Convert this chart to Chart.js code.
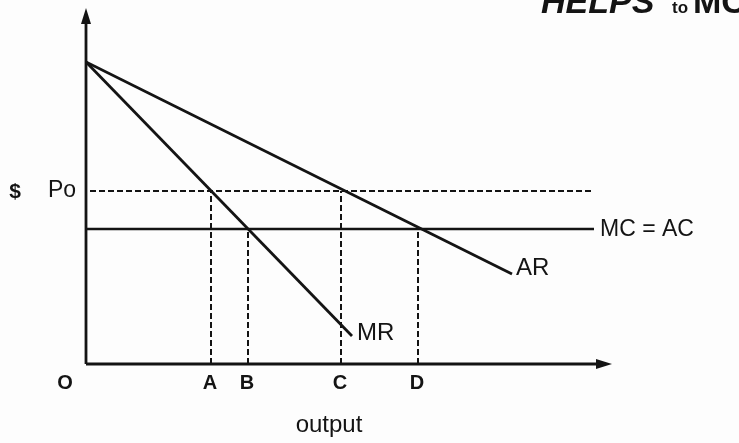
<!DOCTYPE html>
<html>
<head>
<meta charset="utf-8">
<script src="https://cdn.jsdelivr.net/npm/chart.js@4/dist/chart.umd.min.js"></script>
<style>
  html, body { margin: 0; padding: 0; background: #fdfdfd; }
  #wrap { width: 739px; height: 443px; position: relative; }
</style>
</head>
<body>
<div id="wrap"><canvas id="monopolyChart"></canvas></div>
<script>
// values (output on x, $ on y)
const arX = [0, 42.6];
const arY = [30.2, 9.0];
const mrX = [0, 26.6];
const mrY = [30.2, 2.8];
const priceLevel = 17.3;   // Po
const costLevel = 13.5;    // MC = AC
const lineEnd = 50.8;      // right end of MC=AC
const poEnd = 50.5;        // right end of Po dashes
const outputMarks = ["A", "B", "C", "D"];
const outputX = [12.5, 16.2, 25.5, 33.2];
const outputTop = [priceLevel, costLevel, priceLevel, costLevel];

const ink = "#141414";
const font = "'Liberation Sans', Arial, sans-serif";

function pts(xs, ys) {
  return xs.map((x, i) => ({ x: x, y: ys[i] }));
}

const dashed = (data) => ({
  data: data,
  borderColor: ink,
  borderWidth: 2,
  borderDash: [6, 3],
  pointRadius: 0,
  fill: false,
});

const datasets = [
  { data: pts(arX, arY), borderColor: ink, borderWidth: 2.8, pointRadius: 0, fill: false },
  { data: pts(mrX, mrY), borderColor: ink, borderWidth: 2.8, pointRadius: 0, fill: false },
  { data: [{ x: 0, y: costLevel }, { x: lineEnd, y: costLevel }], borderColor: ink, borderWidth: 2.3, pointRadius: 0, fill: false },
  dashed([{ x: 0.4, y: priceLevel }, { x: poEnd, y: priceLevel }]),
];
outputX.forEach((x, i) => {
  datasets.push(dashed([{ x: x, y: 0 }, { x: x, y: outputTop[i] }]));
});

// axes with arrow heads and the text labels
const diagramPlugin = {
  id: "diagram",
  afterDatasetsDraw(chart) {
    const ctx = chart.ctx;
    const xs = chart.scales.x;
    const ys = chart.scales.y;
    const ox = xs.getPixelForValue(0);
    const oy = ys.getPixelForValue(0);
    const xEnd = xs.right;
    const yEnd = ys.top;

    ctx.save();
    ctx.strokeStyle = ink;
    ctx.fillStyle = ink;
    ctx.lineWidth = 2.8;
    ctx.beginPath();
    ctx.moveTo(ox, oy);
    ctx.lineTo(xEnd - 8, oy);
    ctx.moveTo(ox, oy);
    ctx.lineTo(ox, yEnd + 8);
    ctx.stroke();
    // arrow heads
    ctx.beginPath();
    ctx.moveTo(xEnd, oy);
    ctx.lineTo(xEnd - 16, oy - 5);
    ctx.lineTo(xEnd - 16, oy + 5);
    ctx.closePath();
    ctx.fill();
    ctx.beginPath();
    ctx.moveTo(ox, yEnd);
    ctx.lineTo(ox - 5, yEnd + 16);
    ctx.lineTo(ox + 5, yEnd + 16);
    ctx.closePath();
    ctx.fill();

    ctx.textBaseline = "middle";
    ctx.textAlign = "center";
    ctx.font = "bold 20px " + font;
    ctx.fillText("O", ox - 21, oy + 19);
    outputMarks.forEach((m, i) => {
      ctx.fillText(m, xs.getPixelForValue(outputX[i]) - 1, oy + 19);
    });

    ctx.font = "24px " + font;
    ctx.fillText("output", xs.getPixelForValue(24.3), oy + 61);

    const py = ys.getPixelForValue(priceLevel);
    ctx.font = "bold 21px " + font;
    ctx.fillText("$", 15, py + 1);
    ctx.font = "23px " + font;
    ctx.fillText("Po", 62, py);

    ctx.textAlign = "left";
    ctx.font = "23px " + font;
    ctx.fillText("MC = AC", xs.getPixelForValue(lineEnd) + 6, ys.getPixelForValue(costLevel) + 1);
    ctx.font = "24px " + font;
    ctx.fillText("AR", xs.getPixelForValue(arX[1]) + 4, ys.getPixelForValue(arY[1]) - 6);
    ctx.fillText("MR", xs.getPixelForValue(mrX[1]) + 5, ys.getPixelForValue(mrY[1]) - 3);

    // page header, cut off at the top edge
    ctx.font = "italic bold 34px " + font;
    ctx.textBaseline = "alphabetic";
    ctx.fillText("HELPS", 541, 13);
    ctx.font = "bold 17px " + font;
    ctx.fillText("to", 672, 13);
    ctx.font = "bold 34px " + font;
    ctx.fillText("MC", 693, 13);
    ctx.restore();
  },
};

new Chart(document.getElementById("monopolyChart"), {
  type: "line",
  data: { datasets: datasets },
  options: {
    responsive: true,
    maintainAspectRatio: false,
    animation: false,
    layout: { padding: { left: 86, right: 127, top: 8, bottom: 79 } },
    plugins: { legend: { display: false }, tooltip: { enabled: false } },
    scales: {
      x: { type: "linear", min: 0, max: 52.6, display: false },
      y: { type: "linear", min: 0, max: 35.6, display: false },
    },
  },
  plugins: [diagramPlugin],
});
</script>
</body>
</html>
